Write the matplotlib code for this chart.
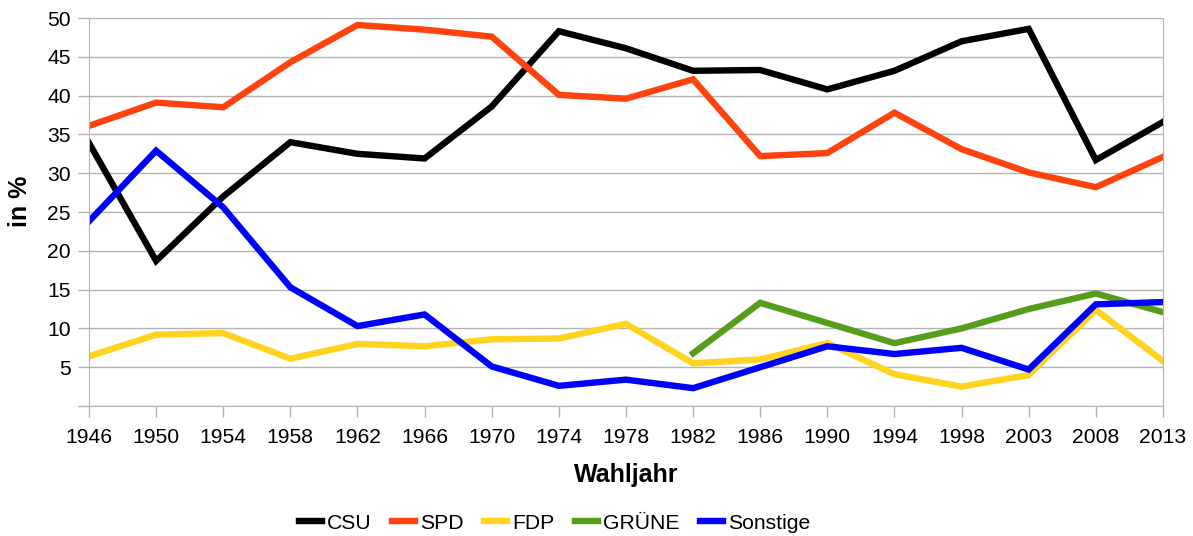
import numpy as np
from matplotlib import pyplot as plt

plt.rcParams['font.family'] = ['Liberation Sans', 'DejaVu Sans']

years = ['1946', '1950', '1954', '1958', '1962', '1966', '1970', '1974', '1978',
         '1982', '1986', '1990', '1994', '1998', '2003', '2008', '2013']
csu = [33.9, 18.7, 27.0, 34.0, 32.5, 31.9, 38.6, 48.3, 46.1, 43.2, 43.3, 40.8,
       43.2, 47.0, 48.6, 31.7, 36.6]
spd = [36.1, 39.1, 38.5, 44.3, 49.1, 48.5, 47.6, 40.1, 39.6, 42.1, 32.2, 32.6,
       37.8, 33.1, 30.1, 28.2, 32.1]
fdp = [6.4, 9.2, 9.4, 6.1, 8.0, 7.7, 8.6, 8.7, 10.6, 5.5, 6.0, 8.1,
       4.1, 2.5, 4.0, 12.4, 5.8]
gruene = [np.nan] * 9 + [6.8, 13.3, 10.7, 8.1, 10.0, 12.5, 14.5, 12.1]
sonstige = [23.8, 32.9, 25.6, 15.3, 10.3, 11.8, 5.1, 2.6, 3.4, 2.3, 5.0, 7.7,
            6.7, 7.5, 4.7, 13.1, 13.4]

series = [('CSU', csu, '#000000'), ('SPD', spd, '#ff420e'), ('FDP', fdp, '#ffd320'),
          ('GRÜNE', gruene, '#579d1c'), ('Sonstige', sonstige, '#0000ff')]

fig = plt.figure(figsize=(11.93, 5.36), dpi=100)
ax = fig.add_axes([0.0746, 0.2425, 0.9002, 0.7239])

x = np.arange(len(years))
for name, vals, col in series:
    ax.plot(x, vals, color=col, lw=4.6, label=name, solid_joinstyle='miter')

ax.set_xlim(0, len(years) - 1)
ax.set_ylim(0, 50)
ax.set_xticks(x)
ax.set_xticklabels(years)
ax.set_yticks(np.arange(0, 51, 5))
ax.set_yticklabels([''] + [str(v) for v in range(5, 51, 5)])
ax.yaxis.grid(True, color='#b3b3b3', lw=1)
ax.set_axisbelow(True)
ax.spines['top'].set_visible(False)
for s in ['left', 'right', 'bottom']:
    ax.spines[s].set_color('#b3b3b3')
ax.tick_params(axis='both', colors='#b3b3b3', length=8, width=1, labelsize=15.2,
               labelcolor='black')
ax.tick_params(axis='x', pad=8)
ax.tick_params(axis='y', pad=5)

ax.set_xlabel('Wahljahr', fontsize=18, fontweight='bold', labelpad=11)
ax.set_ylabel('in %', fontsize=18, fontweight='bold')
ax.yaxis.set_label_coords(-0.053, 0.528)

fig.legend(loc='center', bbox_to_anchor=(0.465, 0.024), ncol=5, frameon=False,
           fontsize=15.2, handlelength=1.1, handletextpad=0.25, columnspacing=0.95)

fig.savefig('out.png', dpi=100)
